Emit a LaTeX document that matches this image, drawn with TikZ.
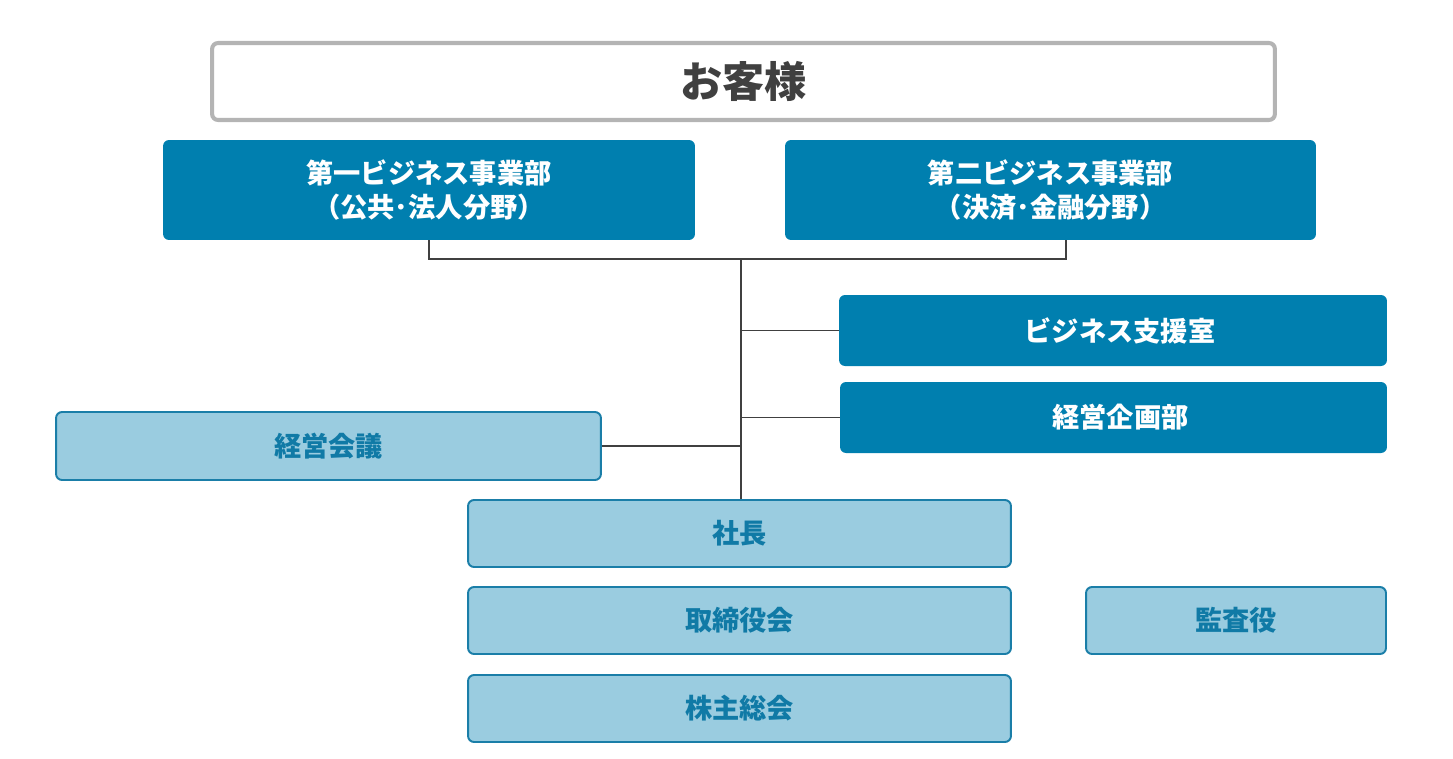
\documentclass[tikz,border=0pt]{standalone}
\usepackage{fontspec}
\setmainfont{Noto Sans CJK JP}
\usetikzlibrary{calc}

\definecolor{deepblue}{RGB}{0,127,175}
\definecolor{paleblue}{RGB}{154,204,224}
\definecolor{edgeblue}{RGB}{26,126,168}
\definecolor{paletext}{RGB}{16,122,166}
\definecolor{rimgray}{RGB}{180,180,180}
\definecolor{inkgray}{RGB}{64,64,64}

\begin{document}
\begin{tikzpicture}[x=0.02cm,y=-0.02cm,
    deep/.style={fill=deepblue,text=white,rounded corners=3.4pt,inner sep=0pt,
        font=\bfseries\fontsize{15.5}{19.4}\selectfont,align=center},
    pale/.style={fill=paleblue,draw=edgeblue,line width=1.1pt,text=paletext,
        rounded corners=3.4pt,inner sep=0pt,font=\bfseries\fontsize{15.5}{19.4}\selectfont},
    link/.style={draw=inkgray,line width=1.1pt}]

\useasboundingbox (0,0) rectangle (1453,758);

\node[draw=rimgray,line width=2.3pt,fill=white,rounded corners=3.4pt,text=inkgray,
    font=\bfseries\fontsize{24}{28}\selectfont,
    minimum width=21.26cm,minimum height=1.54cm](kyaku) at (743.5,81.5) {お客様};

\node[deep,minimum width=10.64cm,minimum height=2cm](jigyo1) at (429,190)
    {\raisebox{-2pt}{第一ビジネス事業部}\\\raisebox{-2pt}{（公共･法人分野）}};

\node[deep,minimum width=10.62cm,minimum height=2cm](jigyo2) at (1050.5,190)
    {\raisebox{-2pt}{第二ビジネス事業部}\\\raisebox{-2pt}{（決済･金融分野）}};

\node[deep,minimum width=10.96cm,minimum height=1.42cm](shien) at (1113,330.5)
    {\hspace*{8pt}ビジネス支援室};

\node[deep,minimum width=10.94cm,minimum height=1.42cm](kikaku) at (1113.5,417.5)
    {\hspace*{8pt}経営企画部};

\node[pale,minimum width=10.9cm,minimum height=1.36cm](kaigi) at (328.5,446) {経営会議};

\node[pale,minimum width=10.86cm,minimum height=1.34cm](shacho) at (739.5,533.5) {社長};

\node[pale,minimum width=10.86cm,minimum height=1.34cm](torishimari) at (739.5,620.5) {取締役会};

\node[pale,minimum width=10.86cm,minimum height=1.34cm](kabunushi) at (739.5,708.5) {株主総会};

\node[pale,minimum width=6cm,minimum height=1.34cm](kansa) at (1236,620.5) {監査役};

\coordinate (top) at (741,259);
\coordinate (rightfoot) at (1066,240);

\draw[link] (jigyo1.south) |- (top) -| (rightfoot);
\draw[link] (top) -- (shacho.north -| top);

\foreach \unit in {shien, kikaku}
    \draw[link] (\unit.west) -- (\unit.west -| top);

\draw[link] (kaigi.east) -- (kaigi.east -| top);

\end{tikzpicture}
\end{document}
